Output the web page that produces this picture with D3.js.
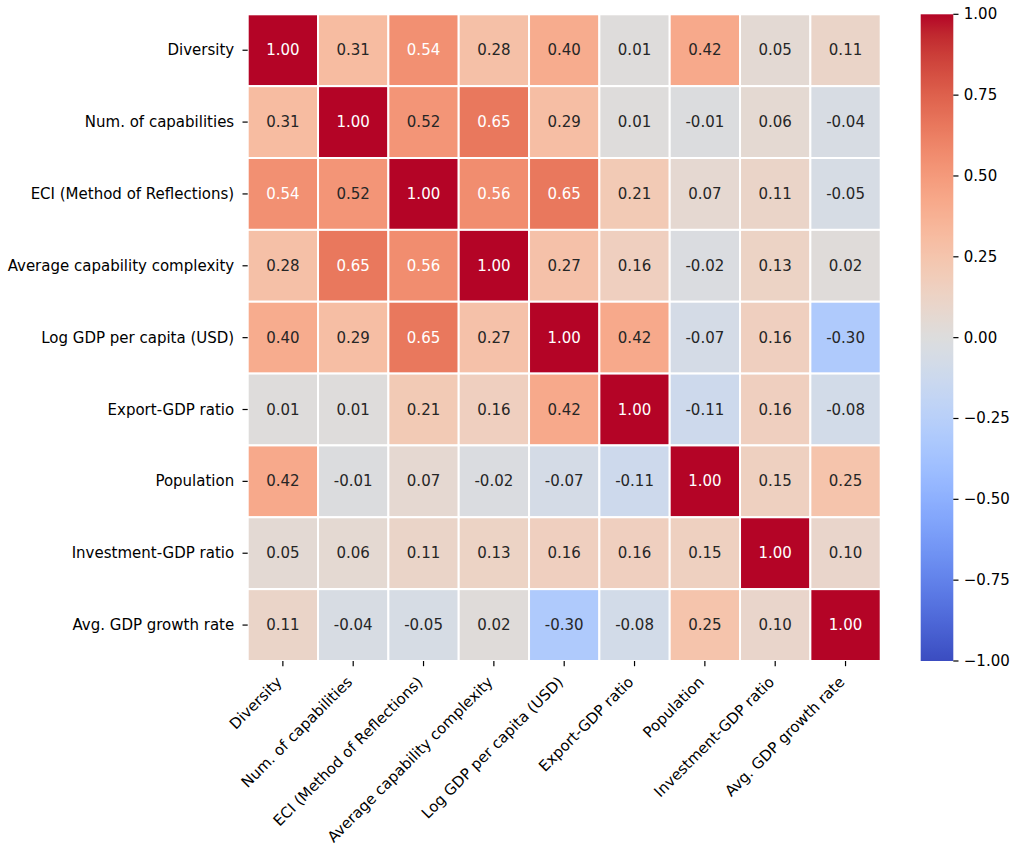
<!DOCTYPE html>
<html>
<head>
<meta charset="utf-8">
<script src="https://cdn.jsdelivr.net/npm/d3@7"></script>
<style>
  html, body { margin: 0; padding: 0; background: #fff; }
  svg { display: block; font-family: "DejaVu Sans", sans-serif; }
</style>
</head>
<body>
<svg id="chart" width="1023" height="849"></svg>
<script>
// ---- data ----
const variables = [
  "Diversity",
  "Num. of capabilities",
  "ECI (Method of Reflections)",
  "Average capability complexity",
  "Log GDP per capita (USD)",
  "Export-GDP ratio",
  "Population",
  "Investment-GDP ratio",
  "Avg. GDP growth rate"
];
const rowDiversity   = [1.00, 0.31, 0.54, 0.28, 0.40, 0.01, 0.42, 0.05, 0.11];
const rowNumCap      = [0.31, 1.00, 0.52, 0.65, 0.29, 0.01, -0.01, 0.06, -0.04];
const rowECI         = [0.54, 0.52, 1.00, 0.56, 0.65, 0.21, 0.07, 0.11, -0.05];
const rowAvgCap      = [0.28, 0.65, 0.56, 1.00, 0.27, 0.16, -0.02, 0.13, 0.02];
const rowLogGDP      = [0.40, 0.29, 0.65, 0.27, 1.00, 0.42, -0.07, 0.16, -0.30];
const rowExport      = [0.01, 0.01, 0.21, 0.16, 0.42, 1.00, -0.11, 0.16, -0.08];
const rowPopulation  = [0.42, -0.01, 0.07, -0.02, -0.07, -0.11, 1.00, 0.15, 0.25];
const rowInvestment  = [0.05, 0.06, 0.11, 0.13, 0.16, 0.16, 0.15, 1.00, 0.10];
const rowGrowth      = [0.11, -0.04, -0.05, 0.02, -0.30, -0.08, 0.25, 0.10, 1.00];
const matrix = [rowDiversity, rowNumCap, rowECI, rowAvgCap, rowLogGDP, rowExport, rowPopulation, rowInvestment, rowGrowth];
const colorbarTicks = [1.00, 0.75, 0.50, 0.25, 0.00, -0.25, -0.50, -0.75, -1.00];

// ---- matplotlib coolwarm colour table (33 nodes) ----
const cwR = [0.2298057,0.26623388,0.30386891,0.342804478,0.38301334,0.424369608,0.46666708,0.509635204,0.552953156,0.596262162,0.639176211,0.681291281,0.722193294,0.761464949,0.798691636,0.833466556,0.865395197,0.897787179,0.924127593,0.944468518,0.958852946,0.96732803,0.969954137,0.966811177,0.958003065,0.943660866,0.923944917,0.89904617,0.869186849,0.834620542,0.795631745,0.752534934,0.705673158];
const cwG = [0.298717966,0.353094838,0.406535296,0.458757618,0.50941904,0.558148092,0.604562568,0.648280772,0.688929332,0.726149107,0.759599947,0.788964712,0.813952739,0.834302879,0.849786142,0.860207984,0.86541021,0.848937047,0.827384882,0.800927443,0.769767752,0.734132809,0.694266682,0.650421156,0.602842431,0.551750968,0.49730856,0.439559467,0.378313092,0.312874446,0.24128379,0.157246067,0.01555616];
const cwB = [0.753683153,0.801466763,0.84495867,0.883725899,0.917387822,0.945619588,0.968154911,0.98478814,0.995375608,0.999836203,0.998151185,0.990363227,0.976574709,0.956945269,0.931688648,0.901068838,0.865395561,0.820880546,0.774508472,0.726736146,0.678007945,0.628751763,0.579375448,0.530263762,0.481775914,0.434243684,0.387970225,0.343229596,0.300267182,0.259301199,0.220525627,0.184115123,0.150232812];

function coolwarmRGB(t) {
  t = Math.max(0, Math.min(1, t));
  const idx = Math.min(255, Math.floor(t * 256));
  const tq = idx / 255;
  const pos = tq * 32;
  const i = Math.min(31, Math.floor(pos));
  const f = pos - i;
  return [
    cwR[i] + (cwR[i+1] - cwR[i]) * f,
    cwG[i] + (cwG[i+1] - cwG[i]) * f,
    cwB[i] + (cwB[i+1] - cwB[i]) * f
  ];
}
function rgbStr(c) {
  return d3.rgb(c[0]*255, c[1]*255, c[2]*255).formatHex();
}
function relLum(c) {
  const lin = c.map(v => v <= 0.03928 ? v / 12.92 : Math.pow((v + 0.055) / 1.055, 2.4));
  return 0.2126*lin[0] + 0.7152*lin[1] + 0.0722*lin[2];
}

// ---- layout ----
const L = 247.7, R = 880.7, T = 14.3, B = 661;
const cbL = 920.7, cbR = 953.3;
const FS = 15;
const TICK = 5.2, TW = 1.2;

const svg = d3.select("#chart");
const x = d3.scaleBand().domain(d3.range(variables.length)).range([L, R]).padding(0);
const y = d3.scaleBand().domain(d3.range(variables.length)).range([T, B]).padding(0);
const norm = d3.scaleLinear().domain([-1, 1]).range([0, 1]);

const cells = [];
matrix.forEach((row, i) => row.forEach((v, j) => cells.push({i, j, v})));

const g = svg.append("g");
g.selectAll("rect.cell").data(cells).join("rect")
  .attr("class", "cell")
  .attr("x", d => x(d.j))
  .attr("y", d => y(d.i))
  .attr("width", x.bandwidth())
  .attr("height", y.bandwidth())
  .attr("fill", d => rgbStr(coolwarmRGB(norm(d.v))))
  .attr("stroke", "#ffffff")
  .attr("stroke-width", 2);

g.selectAll("text.annot").data(cells).join("text")
  .attr("class", "annot")
  .attr("x", d => x(d.j) + x.bandwidth() / 2)
  .attr("y", d => y(d.i) + y.bandwidth() / 2)
  .attr("text-anchor", "middle")
  .attr("dominant-baseline", "central")
  .attr("font-size", FS)
  .attr("fill", d => relLum(coolwarmRGB(norm(d.v))) > 0.408 ? "#262626" : "#ffffff")
  .text(d => d3.format(".2f")(d.v).replace("\u2212", "-"));

// y axis
const yAxis = svg.append("g");
variables.forEach((name, i) => {
  const cy = y(i) + y.bandwidth() / 2;
  yAxis.append("line").attr("x1", L - TICK).attr("x2", L).attr("y1", cy).attr("y2", cy)
    .attr("stroke", "#000").attr("stroke-width", TW);
  yAxis.append("text").attr("x", L - 13.5).attr("y", cy)
    .attr("text-anchor", "end").attr("dominant-baseline", "central")
    .attr("font-size", FS).attr("fill", "#000").text(name);
});

// x axis
const xAxis = svg.append("g");
variables.forEach((name, j) => {
  const cx = x(j) + x.bandwidth() / 2;
  xAxis.append("line").attr("x1", cx).attr("x2", cx).attr("y1", B).attr("y2", B + TICK)
    .attr("stroke", "#000").attr("stroke-width", TW);
  xAxis.append("text")
    .attr("transform", `translate(${cx},${B + 22}) rotate(-45)`)
    .attr("text-anchor", "end")
    .attr("font-size", FS).attr("fill", "#000").text(name);
});

// colorbar
const defs = svg.append("defs");
const grad = defs.append("linearGradient").attr("id", "cbgrad")
  .attr("x1", 0).attr("y1", 1).attr("x2", 0).attr("y2", 0);
d3.range(0, 256).forEach(k => {
  const t = k / 255;
  grad.append("stop").attr("offset", t).attr("stop-color", rgbStr(coolwarmRGB(t)));
});
svg.append("rect").attr("x", cbL).attr("y", T).attr("width", cbR - cbL).attr("height", B - T)
  .attr("fill", "url(#cbgrad)");

const cbScale = d3.scaleLinear().domain([-1, 1]).range([B, T]);
const cbAxis = svg.append("g");
colorbarTicks.forEach(v => {
  const cy = cbScale(v);
  cbAxis.append("line").attr("x1", cbR).attr("x2", cbR + TICK).attr("y1", cy).attr("y2", cy)
    .attr("stroke", "#000").attr("stroke-width", TW);
  cbAxis.append("text").attr("x", cbR + 10.5).attr("y", cy)
    .attr("dominant-baseline", "central")
    .attr("font-size", FS).attr("fill", "#000")
    .text(d3.format(".2f")(v).replace("-", "\u2212"));
});
</script>
</body>
</html>
